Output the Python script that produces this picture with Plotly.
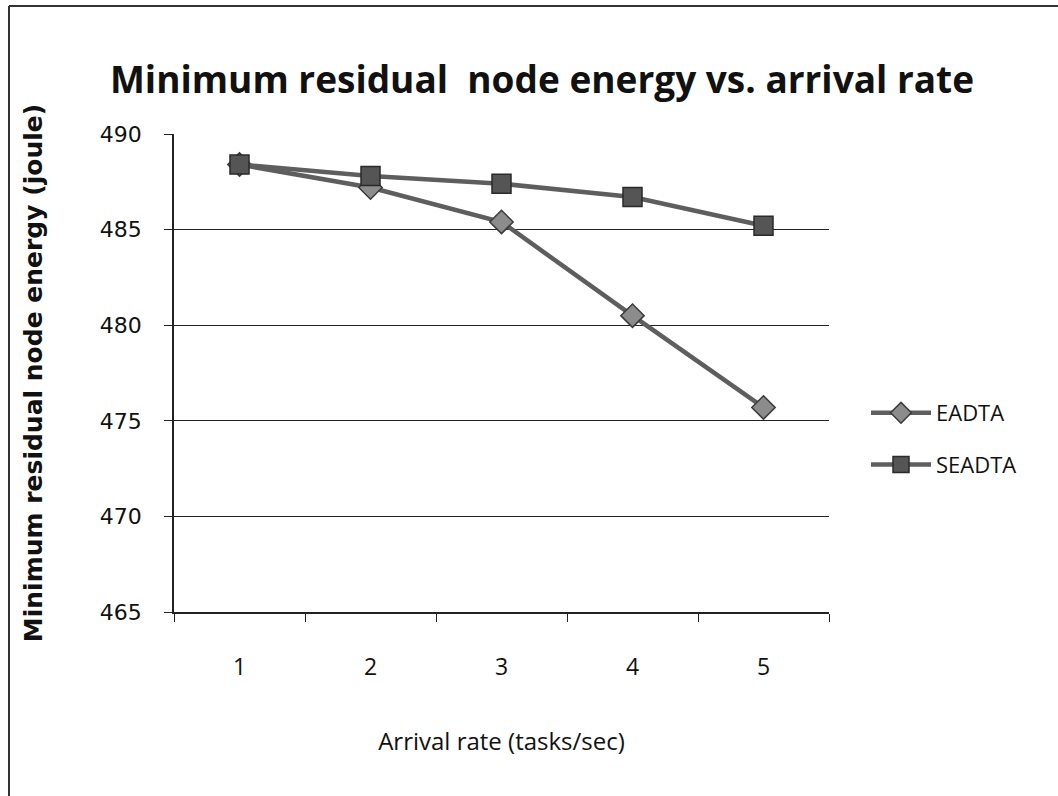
import plotly.graph_objects as go

categories = ["1", "2", "3", "4", "5"]
eadta = [488.4, 487.2, 485.4, 480.5, 475.7]
seadta = [488.4, 487.8, 487.4, 486.7, 485.2]
y_ticks = [465, 470, 475, 480, 485, 490]

W, H = 1058, 796
L, R, T, B = 174, 229, 134, 184
pw, ph = W - L - R, H - T - B

def px_x(x):
    return (x - L) / pw

def px_y(y):
    return (H - B - y) / ph

fig = go.Figure()
fig.add_trace(go.Scatter(
    x=categories, y=eadta, name="EADTA", mode="lines+markers",
    line=dict(color="#5e5e5e", width=4.5),
    marker=dict(symbol="diamond", size=18, color="#8c8c8c",
                line=dict(color="#3a3a3a", width=1.5)),
    legendgroup="a"))
fig.add_trace(go.Scatter(
    x=categories, y=seadta, name="SEADTA", mode="lines+markers",
    line=dict(color="#5e5e5e", width=4.5),
    marker=dict(symbol="square", size=19, color="#555555",
                line=dict(color="#2a2a2a", width=1.5)),
    legendgroup="b"))

fig.update_layout(
    width=W, height=H,
    margin=dict(l=L, r=R, t=T, b=B, autoexpand=False),
    paper_bgcolor="white", plot_bgcolor="white",
    showlegend=True,
    legend=dict(x=px_x(866), y=px_y(439), xanchor="left", yanchor="middle",
                font=dict(family="Open Sans", size=22, color="#111"),
                traceorder="grouped", tracegroupgap=20, itemwidth=60,
                bgcolor="rgba(0,0,0,0)"),
    title=dict(text="<b>Minimum residual  node energy vs. arrival rate</b>",
               x=542 / W, xanchor="center", y=1 - 80 / H, yanchor="middle",
               font=dict(family="Liberation Sans Narrow, Open Sans", size=37, color="#111")),
    xaxis=dict(type="category", range=[-0.5, 4.5], tickson="boundaries",
               ticks="outside", ticklen=8, tickcolor="#222",
               showline=True, linecolor="#222", linewidth=1.5,
               showgrid=False, zeroline=False, ticklabelstandoff=34,
               tickfont=dict(family="Open Sans", size=23, color="#111"),
               title=dict(text="Arrival rate (tasks/sec)", standoff=52,
                          font=dict(family="Open Sans", size=24, color="#111"))),
    yaxis=dict(range=[465, 490], tickvals=y_ticks,
               ticks="outside", ticklen=8, tickcolor="#222",
               showline=True, linecolor="#222", linewidth=1.5,
               showgrid=True, gridcolor="#222", gridwidth=1, zeroline=False,
               ticklabelstandoff=18,
               tickfont=dict(family="DejaVu Sans", size=22, color="#111"),
               title=dict(text="<b>Minimum residual node energy (joule)</b>", standoff=50,
                          font=dict(family="DejaVu Sans", size=25, color="#111"))),
    shapes=[
        dict(type="line", xref="paper", yref="paper",
             x0=px_x(9), x1=px_x(9), y0=px_y(6), y1=px_y(796),
             line=dict(color="#333", width=2)),
        dict(type="line", xref="paper", yref="paper",
             x0=px_x(9), x1=px_x(1058), y0=px_y(6), y1=px_y(6),
             line=dict(color="#333", width=2)),
    ],
)

fig.write_html("out.html")
